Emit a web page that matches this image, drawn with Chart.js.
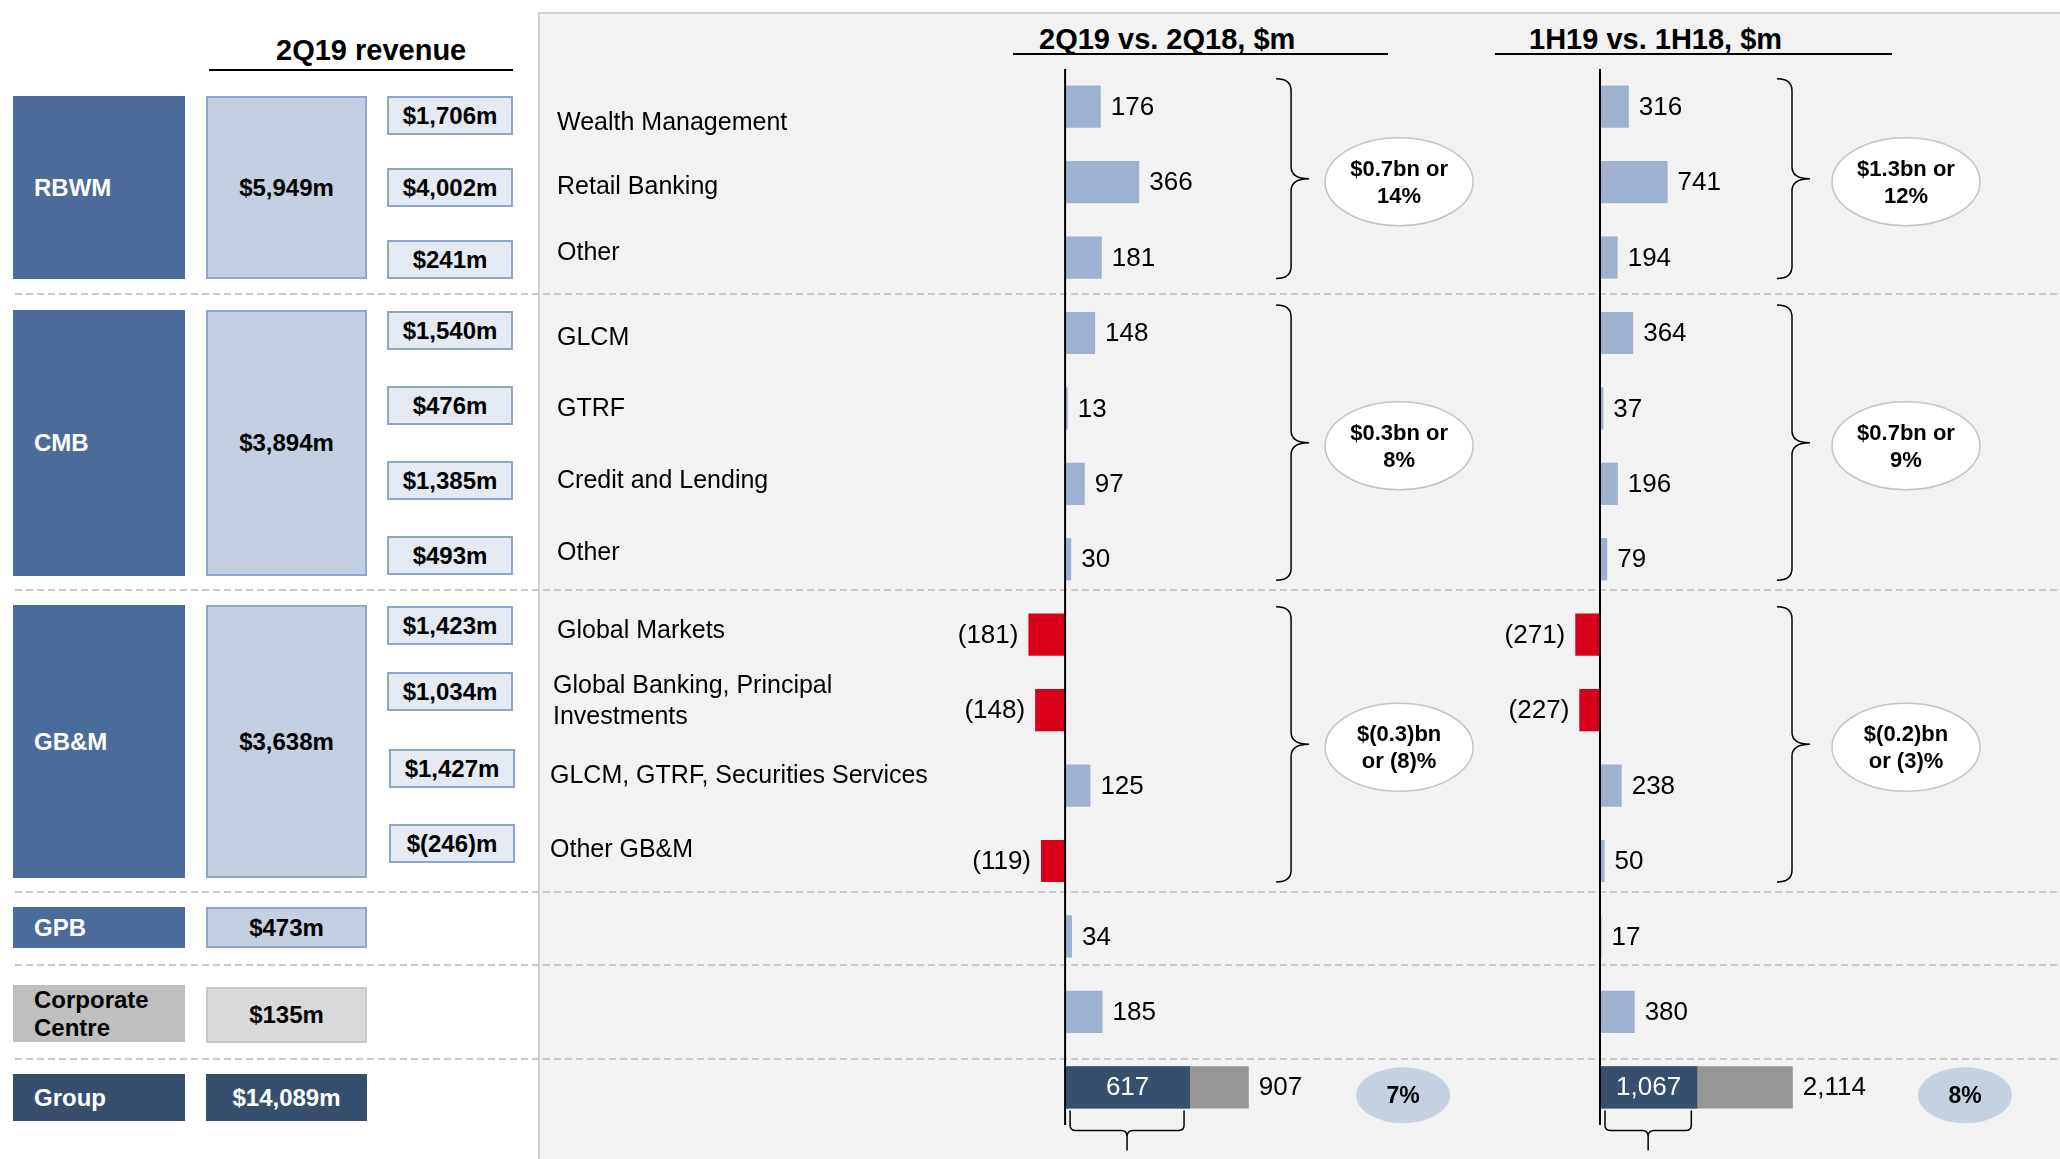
<!DOCTYPE html>
<html>
<head>
<meta charset="utf-8">
<script src="https://cdn.jsdelivr.net/npm/chart.js@4.4.1/dist/chart.umd.min.js"></script>
<style>
  body { margin: 0; width: 2060px; height: 1159px; position: relative; background: #fff; overflow: hidden;
         font-family: Arial, "Liberation Sans", sans-serif; }
  .abs { position: absolute; box-sizing: border-box; }
  #panel { left: 538px; top: 12px; right: 0; bottom: 0; background: #f2f2f2;
           border-left: 2px solid #d0d0d0; border-top: 2px solid #d0d0d0; }
  .dash { height: 2px; left: 15px; right: 0;
          background: repeating-linear-gradient(to right, #c9c9c9 0 7px, transparent 7px 11px); }
  .box { display: flex; align-items: center; font-weight: bold; font-size: 24px; white-space: pre-line; }
  .seg { background: #4b6b9b; color: #fff; padding-left: 21px; line-height: 28px; }
  .rev { background: #c4cfe1; border: 2px solid #8ea6cc; justify-content: center; }
  .sub { background: #e5e9f2; border: 2px solid #8ea6cc; justify-content: center; }
  .title { font-weight: bold; font-size: 29px; line-height: 29px; white-space: nowrap; }
  .rule { height: 2px; background: #000; }
  canvas { position: absolute; left: 0; top: 0; }
</style>
</head>
<body>
<div id="panel" class="abs"></div>
<div id="left"></div>
<canvas id="bridge" width="2060" height="1159"></canvas>
<script>
// --- DATA ---
const segments = ['RBWM', 'CMB', 'GB&M', 'GPB', 'Corporate\nCentre', 'Group'];
const segmentRevenue = [5949, 3894, 3638, 473, 135, 14089];
const lineRevenue = [1706, 4002, 241, 1540, 476, 1385, 493, 1423, 1034, 1427, -246];

const categories = ['Wealth Management', 'Retail Banking', 'Other', 'GLCM', 'GTRF', 'Credit and Lending', 'Other',
  'Global Markets', 'Global Banking, Principal\nInvestments', 'GLCM, GTRF, Securities Services', 'Other GB&M',
  'GPB', 'Corporate Centre', 'Group'];
const change2Q = [176, 366, 181, 148, 13, 97, 30, -181, -148, 125, -119, 34, 185, null];
const change1H = [316, 741, 194, 364, 37, 196, 79, -271, -227, 238, 50, 17, 380, null];
const groupTotal = [907, 2114];
const groupCore = [617, 1067];
const groupGrowth = ['7%', '8%'];
const bracketRows = [[0, 2], [3, 6], [7, 10]];
const summary2Q = [['$0.7bn or', '14%'], ['$0.3bn or', '8%'], ['$(0.3)bn', 'or (8)%']];
const summary1H = [['$1.3bn or', '12%'], ['$0.7bn or', '9%'], ['$(0.2)bn', 'or (3)%']];
const titles = ['2Q19 vs. 2Q18, $m', '1H19 vs. 1H18, $m'];

// --- LAYOUT ---
const FONT = "'Liberation Sans', Arial, sans-serif";
const segTop = [96, 310, 605, 907, 985, 1074];
const segBottom = [279, 576, 878, 948, 1042, 1121];
const subTop = [96, 168, 240, 311, 386, 461, 536, 606, 672, 749, 824];
const dashY = [293, 589, 891, 964, 1058];
const labelNudge = [16, 5, -4, 5, 1, -3, -6, -4, -9, -9, -11];
const labelX = [557, 557, 557, 557, 557, 557, 557, 557, 553, 550, 550];
const braceOff = [211, 177], ovalOff = [334, 306], bubbleOff = [338, 365];

const fmt = n => n.toLocaleString('en-US');
const money = n => n < 0 ? `$(${fmt(-n)})m` : `$${fmt(n)}m`;

function addDiv(cls, style, text) {
  const d = document.createElement('div');
  d.className = 'abs ' + cls;
  Object.assign(d.style, style);
  if (text !== undefined) d.textContent = text;
  document.getElementById('left').appendChild(d);
  return d;
}

// --- LEFT TABLE ---
function buildLeft() {
  dashY.forEach(y => addDiv('dash', { top: y + 'px' }));
  addDiv('title', { left: '276px', top: '36px' }, '2Q19 revenue');
  addDiv('rule', { left: '209px', top: '69px', width: '304px' });

  segments.forEach((s, i) => {
    const h = segBottom[i] - segTop[i];
    const seg = addDiv('box seg', { left: '13px', top: segTop[i] + 'px', width: '172px', height: h + 'px' }, s);
    const rev = addDiv('box rev', { left: '206px', top: segTop[i] + 'px', width: '161px', height: h + 'px' },
      money(segmentRevenue[i]));
    if (i === 4) {
      seg.style.background = '#bfbfbf'; seg.style.color = '#000';
      rev.style.background = '#d9d9d9'; rev.style.borderColor = '#c8c8c8';
      rev.style.top = '987px'; rev.style.height = '56px';
    }
    if (i === 5) {
      seg.style.background = '#374f6e';
      rev.style.background = '#374f6e'; rev.style.border = 'none'; rev.style.color = '#fff';
    }
  });

  lineRevenue.forEach((v, i) => {
    addDiv('box sub', { left: (i > 8 ? 389 : 387) + 'px', top: subTop[i] + 'px', width: '126px', height: '39px' },
      money(v));
  });

  addDiv('title', { left: '1039px', top: '25px' }, titles[0]);
  addDiv('rule', { left: '1013px', top: '53px', width: '375px' });
  addDiv('title', { left: '1529px', top: '25px' }, titles[1]);
  addDiv('rule', { left: '1495px', top: '53px', width: '397px' });
}

// --- CHART ---
const barColour = v => v < 0 ? '#d8001a' : '#9eb1d0';
const onlyGroup = v => categories.map((_, i) => i === 13 ? v : null);

function brace(ctx, x, top, bottom, w) {
  const mid = (top + bottom) / 2, h = 15, r = 12;
  ctx.beginPath();
  ctx.moveTo(x, top);
  ctx.quadraticCurveTo(x + h, top, x + h, top + r);
  ctx.lineTo(x + h, mid - r);
  ctx.quadraticCurveTo(x + h, mid, x + w, mid);
  ctx.quadraticCurveTo(x + h, mid, x + h, mid + r);
  ctx.lineTo(x + h, bottom - r);
  ctx.quadraticCurveTo(x + h, bottom, x, bottom);
  ctx.stroke();
}

function underBrace(ctx, x0, x1, top) {
  const cx = (x0 + x1) / 2, y = top + 20;
  ctx.beginPath();
  ctx.moveTo(x0, top);
  ctx.lineTo(x0, y - 5);
  ctx.quadraticCurveTo(x0, y, x0 + 6, y);
  ctx.lineTo(cx - 6, y);
  ctx.quadraticCurveTo(cx, y, cx, y + 6);
  ctx.lineTo(cx, y + 20);
  ctx.moveTo(cx, y + 6);
  ctx.quadraticCurveTo(cx, y, cx + 6, y);
  ctx.lineTo(x1 - 6, y);
  ctx.quadraticCurveTo(x1, y, x1, y - 5);
  ctx.lineTo(x1, top);
  ctx.stroke();
}

const overlay = {
  id: 'overlay',
  afterDatasetsDraw(chart) {
    const { ctx, chartArea, scales } = chart;
    const yAt = i => scales.y.getPixelForValue(i);
    const zero = [scales.x1.getPixelForValue(0), scales.x2.getPixelForValue(0)];
    ctx.save();

    // zero lines
    ctx.strokeStyle = '#000';
    ctx.lineWidth = 2;
    zero.forEach(z => {
      ctx.beginPath(); ctx.moveTo(z, chartArea.top); ctx.lineTo(z, chartArea.bottom); ctx.stroke();
    });

    // row names
    ctx.fillStyle = '#000';
    ctx.textBaseline = 'middle';
    ctx.textAlign = 'left';
    ctx.font = '25px ' + FONT;
    categories.slice(0, 11).forEach((c, i) => {
      const parts = c.split('\n');
      const y0 = yAt(i) + labelNudge[i] - (parts.length - 1) * 31 / 2;
      parts.forEach((p, k) => ctx.fillText(p, labelX[i], y0 + k * 31));
    });

    // bar values
    ctx.font = '26px ' + FONT;
    [0, 1].forEach(d => {
      const vals = chart.data.datasets[d].data;
      chart.getDatasetMeta(d).data.forEach((bar, i) => {
        const v = vals[i];
        if (v == null) return;
        ctx.textAlign = v < 0 ? 'right' : 'left';
        ctx.fillText(v < 0 ? `(${fmt(-v)})` : fmt(v), bar.x + (v < 0 ? -10 : 10), bar.y + 1);
      });
    });

    // group row
    [0, 1].forEach(p => {
      const core = chart.getDatasetMeta(2 + p).data[13];
      const total = chart.getDatasetMeta(4 + p).data[13];
      ctx.fillStyle = '#fff';
      ctx.textAlign = 'center';
      ctx.fillText(fmt(groupCore[p]), (core.x + core.base) / 2, core.y + 1);
      ctx.fillStyle = '#000';
      ctx.textAlign = 'left';
      ctx.fillText(fmt(groupTotal[p]), total.x + 10, total.y + 1);

      ctx.lineWidth = 1.5;
      ctx.strokeStyle = '#000';
      underBrace(ctx, core.base + 5, core.x - 6, core.y + core.height / 2 + 2);

      const bx = zero[p] + bubbleOff[p], by = core.y + 8;
      ctx.beginPath();
      ctx.ellipse(bx, by, 47, 28, 0, 0, Math.PI * 2);
      ctx.fillStyle = '#c5d0e1';
      ctx.fill();
      ctx.fillStyle = '#000';
      ctx.textAlign = 'center';
      ctx.font = 'bold 23px ' + FONT;
      ctx.fillText(groupGrowth[p], bx, by + 1);
      ctx.font = '26px ' + FONT;
    });

    // brackets and summary ovals
    bracketRows.forEach(([a, b], g) => {
      const top = yAt(a) - 28, bottom = yAt(b) + 21, mid = (top + bottom) / 2;
      [summary2Q, summary1H].forEach((txt, p) => {
        ctx.strokeStyle = '#000';
        ctx.lineWidth = 1.5;
        brace(ctx, zero[p] + braceOff[p], top, bottom, 33);
        const cx = zero[p] + ovalOff[p], cy = mid + 3;
        ctx.beginPath();
        ctx.ellipse(cx, cy, 74, 44, 0, 0, Math.PI * 2);
        ctx.fillStyle = '#fff';
        ctx.fill();
        ctx.strokeStyle = '#c4c4c4';
        ctx.stroke();
        ctx.fillStyle = '#000';
        ctx.textAlign = 'center';
        ctx.font = 'bold 22px ' + FONT;
        ctx.fillText(txt[g][0], cx, cy - 12);
        ctx.fillText(txt[g][1], cx, cy + 15);
      });
    });
    ctx.restore();
  }
};

function initChart() {
  const ctx = document.getElementById('bridge').getContext('2d');
  const base = { grouped: false, barPercentage: 0.56, categoryPercentage: 1, borderWidth: 0 };
  new Chart(ctx, {
    type: 'bar',
    data: {
      labels: categories,
      datasets: [
        { ...base, label: '2Q19 vs 2Q18', data: change2Q, xAxisID: 'x1', backgroundColor: change2Q.map(barColour) },
        { ...base, label: '1H19 vs 1H18', data: change1H, xAxisID: 'x2', backgroundColor: change1H.map(barColour) },
        { ...base, label: 'Group core 2Q', data: onlyGroup(groupCore[0]), xAxisID: 'x1', backgroundColor: '#374f6e', order: 1 },
        { ...base, label: 'Group core 1H', data: onlyGroup(groupCore[1]), xAxisID: 'x2', backgroundColor: '#374f6e', order: 1 },
        { ...base, label: 'Group 2Q', data: onlyGroup(groupTotal[0]), xAxisID: 'x1', backgroundColor: '#969696', order: 2 },
        { ...base, label: 'Group 1H', data: onlyGroup(groupTotal[1]), xAxisID: 'x2', backgroundColor: '#969696', order: 2 }
      ]
    },
    options: {
      indexAxis: 'y',
      responsive: false,
      animation: false,
      devicePixelRatio: 1,
      events: [],
      layout: { padding: { left: 540, right: 0, top: 69, bottom: 34 } },
      plugins: { legend: { display: false }, tooltip: { enabled: false } },
      scales: {
        y: { type: 'category', display: false, offset: true },
        x1: { type: 'linear', axis: 'x', display: false, min: -2593, max: 4913 },
        x2: { type: 'linear', axis: 'x', display: false, min: -11623, max: 5044 }
      }
    },
    plugins: [overlay]
  });
}

buildLeft();
initChart();
</script>
</body>
</html>
